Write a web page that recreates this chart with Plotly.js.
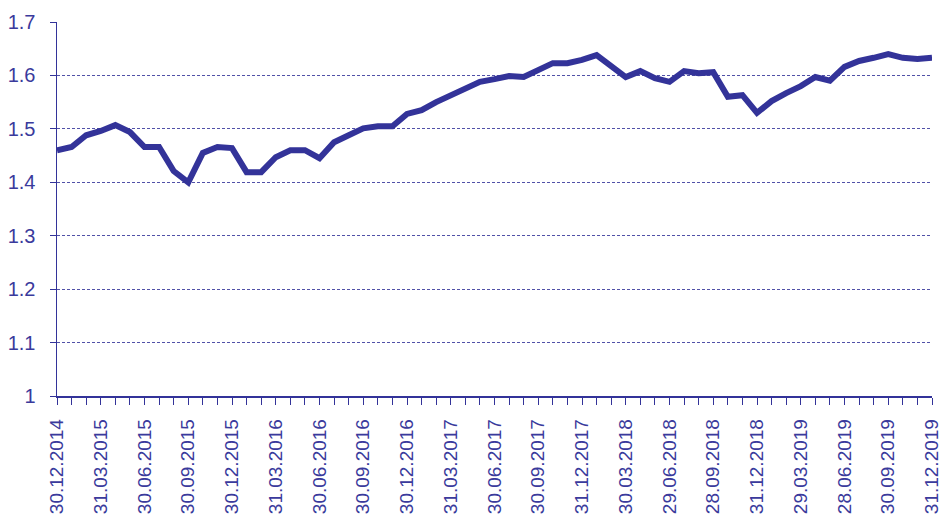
<!DOCTYPE html>
<html>
<head>
<meta charset="utf-8">
<script src="https://cdn.plot.ly/plotly-3.0.1.min.js"></script>
<style>html,body{margin:0;padding:0;background:#fff;}#chart{width:942px;height:515px;}</style>
</head>
<body>
<div id="chart"></div>
<script>
// Monthly observations, 31.12.2014 .. 31.12.2019 (61 months)
const values = [
  1.460, 1.466, 1.488, 1.496, 1.507, 1.494, 1.466, 1.466, 1.421, 1.400,
  1.455, 1.466, 1.464, 1.419, 1.419, 1.447, 1.460, 1.460, 1.445, 1.475,
  1.488, 1.501, 1.505, 1.505, 1.528, 1.535, 1.550, 1.563, 1.578, 1.588,
  1.593, 1.599, 1.597, 1.610, 1.623, 1.623, 1.629, 1.638, 1.618, 1.597,
  1.608, 1.595, 1.588, 1.608, 1.604, 1.606, 1.560, 1.563, 1.530, 1.552,
  1.567, 1.580, 1.597, 1.590, 1.616, 1.627, 1.633, 1.640, 1.633, 1.631,
  1.633
];
// Quarterly tick labels (every third month)
const tickLabels = [
  "30.12.2014", "31.03.2015", "30.06.2015", "30.09.2015", "30.12.2015",
  "31.03.2016", "30.06.2016", "30.09.2016", "30.12.2016", "31.03.2017",
  "30.06.2017", "30.09.2017", "31.12.2017", "30.03.2018", "29.06.2018",
  "28.09.2018", "31.12.2018", "29.03.2019", "28.06.2019", "30.09.2019",
  "31.12.2019"
];
const monthIndex = values.map((_, i) => i);
const tickPositions = tickLabels.map((_, i) => i * 3);

const navy = '#333399';
const textColor = '#3a3a9c';

const trace = {
  x: monthIndex,
  y: values,
  type: 'scatter',
  mode: 'lines',
  line: {color: navy, width: 6},
  hoverinfo: 'y'
};

const layout = {
  width: 942,
  height: 515,
  margin: {l: 57, r: 10, t: 22, b: 119},
  paper_bgcolor: '#fff',
  plot_bgcolor: '#fff',
  showlegend: false,
  font: {family: 'Liberation Sans, Arial, sans-serif', color: textColor, size: 20},
  xaxis: {
    range: [0, 60],
    tickmode: 'array',
    tickvals: tickPositions,
    ticktext: tickLabels,
    tickangle: -90,
    ticks: 'outside',
    ticklen: 7,
    tickcolor: navy,
    tickwidth: 1,
    minor: {dtick: 1, ticks: 'outside', ticklen: 7, tickcolor: navy, tickwidth: 1, showgrid: false},
    showgrid: false,
    zeroline: false,
    showline: true,
    linecolor: navy,
    linewidth: 1.5,
    ticklabelstandoff: 7,
    ticklabeloverflow: 'allow',
    tickfont: {size: 19, color: textColor},
    automargin: false,
    fixedrange: true
  },
  yaxis: {
    range: [1, 1.7],
    tickmode: 'linear',
    tick0: 1,
    dtick: 0.1,
    ticks: 'outside',
    ticklen: 6,
    tickcolor: navy,
    tickwidth: 1,
    showgrid: true,
    gridcolor: 'rgba(51,51,153,0.85)',
    gridwidth: 1,
    griddash: '3px,2px',
    zeroline: false,
    showline: true,
    linecolor: navy,
    linewidth: 1.5,
    ticklabelstandoff: 10,
    ticklabeloverflow: 'allow',
    tickfont: {size: 20, color: textColor},
    automargin: false,
    fixedrange: true
  }
};

Plotly.newPlot('chart', [trace], layout, {displayModeBar: false, staticPlot: true});
</script>
</body>
</html>
